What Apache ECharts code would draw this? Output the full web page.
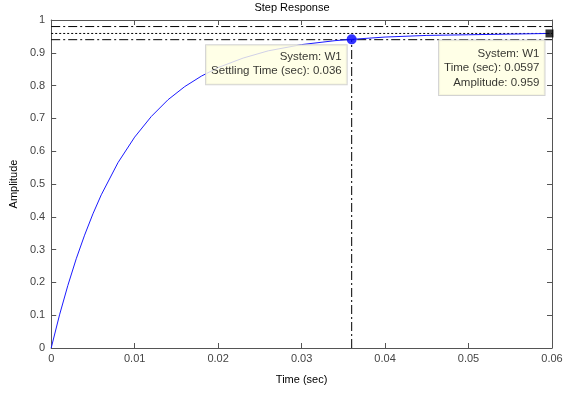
<!DOCTYPE html>
<html>
<head>
<meta charset="utf-8">
<script src="https://cdn.jsdelivr.net/npm/echarts@6/dist/echarts.min.js"></script>
<style>html,body{margin:0;padding:0;background:#fff}#c{width:584px;height:395px}</style>
</head>
<body>
<div id="c"></div>
<script>
// Step response samples
var timeSec = [0, 0.001, 0.002, 0.003, 0.004, 0.005, 0.006, 0.008, 0.010, 0.012, 0.014, 0.016, 0.018, 0.020, 0.023, 0.026, 0.030, 0.034, 0.036, 0.040, 0.045, 0.050, 0.055, 0.0597];
var amplitude = [0, 0.101, 0.191, 0.272, 0.344, 0.409, 0.467, 0.565, 0.643, 0.706, 0.757, 0.797, 0.829, 0.855, 0.884, 0.906, 0.925, 0.937, 0.941, 0.948, 0.953, 0.955, 0.957, 0.959];
var xTicks = [0, 0.01, 0.02, 0.03, 0.04, 0.05, 0.06];
var yTicks = [0, 0.1, 0.2, 0.3, 0.4, 0.5, 0.6, 0.7, 0.8, 0.9, 1];
var finalValue = 0.959;
var settleUpper = 0.98;
var settleLower = 0.94;
var settlingTime = 0.036;
var settlingAmp = 0.941;
var endTime = 0.0597;
var endAmp = 0.959;
var systemName = 'W1';

var FONT = '"Liberation Sans", Arial, sans-serif';
var chart = echarts.init(document.getElementById('c'), null, {renderer: 'canvas'});
var curve = timeSec.map(function (t, i) { return [t, amplitude[i]]; });
var xMin = xTicks[0], xMax = xTicks[xTicks.length - 1];
var yMin = yTicks[0], yMax = yTicks[yTicks.length - 1];
function hline(v, dash) {
  return {type: 'line', data: [[xMin, v], [xMax, v]], symbol: 'none', silent: true,
    lineStyle: {color: '#000', width: 1, type: dash}, z: 3};
}
var axisCommon = {
  type: 'value', min: xMin, max: xMax, interval: 0.01,
  axisLine: {show: true, onZero: false, lineStyle: {color: '#555', width: 1}},
  axisTick: {show: true, inside: true, length: 5, lineStyle: {color: '#555'}},
  splitLine: {show: false}
};
var tipStyle = {
  show: true, backgroundColor: '#ffffe1', borderColor: '#c8c8c8', borderWidth: 1,
  color: '#000', fontFamily: FONT, fontSize: 11.5, lineHeight: 14.5,
  align: 'right', verticalAlign: 'top'
};
chart.setOption({
  animation: false,
  title: {text: 'Step Response', left: 'center', top: 2, padding: 0,
    textStyle: {fontFamily: FONT, fontSize: 11, fontWeight: 'normal', color: '#000'}},
  grid: {left: 51, right: 32, top: 20, bottom: 47, containLabel: false},
  xAxis: [
    Object.assign({}, axisCommon, {position: 'bottom', name: 'Time (sec)', nameLocation: 'middle', nameGap: 26,
      nameTextStyle: {fontFamily: FONT, fontSize: 11, color: '#000'},
      axisLabel: {margin: 5, fontFamily: FONT, fontSize: 11, color: '#444',
        formatter: function (v) { return String(+v.toFixed(3)); }}}),
    Object.assign({}, axisCommon, {position: 'top', axisLabel: {show: false}})
  ],
  yAxis: [
    {type: 'value', min: yMin, max: yMax, interval: 0.1, position: 'left',
      name: 'Amplitude', nameLocation: 'middle', nameGap: 27,
      nameTextStyle: {fontFamily: FONT, fontSize: 11, color: '#000'},
      axisLine: {show: true, onZero: false, lineStyle: {color: '#555'}},
      axisTick: {show: true, inside: true, length: 5, lineStyle: {color: '#555'}},
      splitLine: {show: false},
      axisLabel: {margin: 6, fontFamily: FONT, fontSize: 11, color: '#444',
        formatter: function (v) { return String(+v.toFixed(2)); }}},
    {type: 'value', min: yMin, max: yMax, interval: 0.1, position: 'right',
      axisLine: {show: true, onZero: false, lineStyle: {color: '#555'}},
      axisTick: {show: true, inside: true, length: 5, lineStyle: {color: '#555'}},
      splitLine: {show: false}, axisLabel: {show: false}}
  ],
  series: [
    hline(settleUpper, [9, 3, 2, 3]),
    hline(finalValue, [2, 2]),
    hline(settleLower, [9, 3, 2, 3]),
    {type: 'line', data: [[settlingTime, yMin], [settlingTime, settlingAmp]], symbol: 'none', silent: true,
      lineStyle: {color: '#000', width: 1, type: [9, 3, 2, 3]}, z: 3},
    {type: 'line', data: curve, symbol: 'none', smooth: false,
      lineStyle: {color: '#1a1aff', width: 1}, z: 4},
    {type: 'scatter', data: [[settlingTime, settlingAmp]], symbol: 'circle', symbolSize: 10,
      itemStyle: {color: '#0000ff'}, z: 6,
      label: Object.assign({}, tipStyle, {position: [0, 11], padding: [4, 5, 6, 5],
        formatter: 'System: ' + systemName + '\nSettling Time (sec): ' + settlingTime})},
    {type: 'scatter', data: [[endTime, endAmp]], symbol: 'rect', symbolSize: 8,
      itemStyle: {color: '#000'}, z: 6,
      label: Object.assign({}, tipStyle, {position: [-1, 11], padding: [6, 5, 5, 5],
        formatter: 'System: ' + systemName + '\nTime (sec): ' + endTime + '\nAmplitude: ' + endAmp})}
  ]
});
</script>
</body>
</html>
